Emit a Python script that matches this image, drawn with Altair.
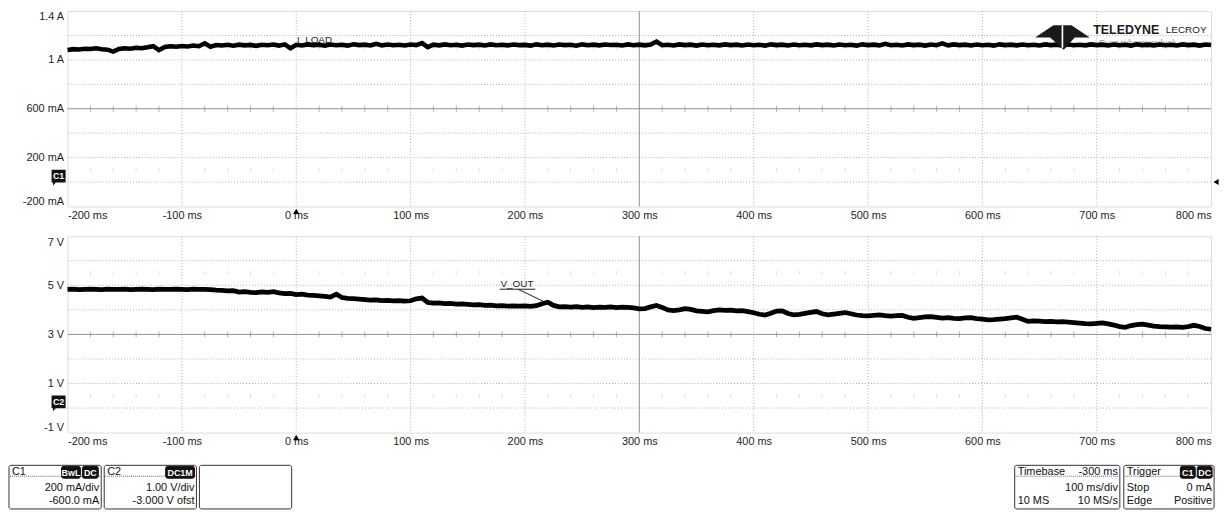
import altair as alt
import pandas as pd

# ---------------- data ----------------
time_ms = list(range(-200, 801, 5))

i_load = [
    1.082, 1.088, 1.085, 1.092, 1.090, 1.095, 1.088, 1.084, 1.068, 1.090, 1.096, 1.092, 1.100, 1.095, 1.104, 1.112, 1.080, 1.106, 1.112, 1.108,
    1.114, 1.110, 1.118, 1.112, 1.136, 1.108, 1.122, 1.118, 1.124, 1.116, 1.125, 1.119, 1.123, 1.115, 1.124, 1.120, 1.126, 1.117, 1.127, 1.095,
    1.124, 1.118, 1.127, 1.121, 1.125, 1.116, 1.126, 1.120, 1.124, 1.117, 1.128, 1.121, 1.125, 1.118, 1.132, 1.119, 1.126, 1.120, 1.124, 1.118,
    1.126, 1.121, 1.138, 1.104, 1.125, 1.119, 1.127, 1.120, 1.124, 1.117, 1.126, 1.121, 1.125, 1.118, 1.127, 1.120, 1.124, 1.119, 1.126, 1.121,
    1.123, 1.117, 1.127, 1.120, 1.125, 1.118, 1.126, 1.121, 1.124, 1.116, 1.127, 1.120, 1.125, 1.119, 1.126, 1.122, 1.124, 1.118, 1.127, 1.120,
    1.125, 1.119, 1.126, 1.150, 1.120, 1.124, 1.118, 1.127, 1.121, 1.125, 1.117, 1.126, 1.120, 1.124, 1.119, 1.127, 1.121, 1.125, 1.118, 1.126,
    1.120, 1.124, 1.117, 1.127, 1.121, 1.125, 1.118, 1.126, 1.120, 1.124, 1.119, 1.127, 1.121, 1.125, 1.118, 1.126, 1.120, 1.124, 1.117, 1.127,
    1.121, 1.125, 1.119, 1.132, 1.120, 1.124, 1.118, 1.127, 1.121, 1.125, 1.117, 1.126, 1.120, 1.135, 1.119, 1.127, 1.121, 1.125, 1.118, 1.126,
    1.120, 1.124, 1.117, 1.127, 1.121, 1.125, 1.119, 1.126, 1.120, 1.124, 1.118, 1.127, 1.121, 1.125, 1.117, 1.126, 1.120, 1.124, 1.119, 1.127,
    1.121, 1.125, 1.118, 1.126, 1.120, 1.124, 1.117, 1.127, 1.121, 1.125, 1.119, 1.126, 1.120, 1.124, 1.118, 1.127, 1.121, 1.125, 1.117, 1.126,
    1.122,
]

v_out = [
    4.83, 4.84, 4.82, 4.83, 4.84, 4.83, 4.82, 4.84, 4.83, 4.83, 4.84, 4.82, 4.83, 4.84, 4.83, 4.82, 4.84, 4.83, 4.83, 4.84,
    4.83, 4.82, 4.84, 4.83, 4.83, 4.82, 4.80, 4.79, 4.77, 4.78, 4.72, 4.74, 4.71, 4.70, 4.73, 4.71, 4.74, 4.69, 4.66, 4.67,
    4.62, 4.64, 4.60, 4.59, 4.57, 4.55, 4.52, 4.64, 4.50, 4.47, 4.46, 4.44, 4.42, 4.40, 4.41, 4.38, 4.39, 4.37, 4.38, 4.36,
    4.37, 4.45, 4.48, 4.30, 4.27, 4.28, 4.25, 4.26, 4.23, 4.24, 4.22, 4.20, 4.21, 4.18, 4.19, 4.16, 4.17, 4.15, 4.16, 4.15,
    4.16, 4.14, 4.17, 4.25, 4.31, 4.18, 4.12, 4.13, 4.11, 4.13, 4.10, 4.12, 4.09, 4.11, 4.10, 4.12, 4.09, 4.11, 4.10, 4.08,
    4.04, 4.05, 4.12, 4.18, 4.10, 4.00, 3.97, 4.00, 4.05, 4.02, 3.96, 3.94, 3.92, 3.97, 4.00, 3.98, 3.99, 3.96, 3.97, 3.93,
    3.88, 3.82, 3.79, 3.86, 3.95, 3.96, 3.85, 3.80, 3.82, 3.86, 3.90, 3.93, 3.84, 3.80, 3.83, 3.86, 3.89, 3.84, 3.79, 3.76,
    3.75, 3.77, 3.79, 3.76, 3.74, 3.76, 3.77, 3.70, 3.65, 3.68, 3.71, 3.72, 3.69, 3.66, 3.68, 3.65, 3.64, 3.67, 3.68, 3.64,
    3.62, 3.59, 3.60, 3.62, 3.64, 3.67, 3.70, 3.62, 3.53, 3.55, 3.54, 3.52, 3.53, 3.51, 3.52, 3.50, 3.48, 3.46, 3.44, 3.43,
    3.45, 3.47, 3.43, 3.38, 3.32, 3.29, 3.36, 3.40, 3.42, 3.38, 3.34, 3.32, 3.31, 3.30, 3.31, 3.29, 3.32, 3.37, 3.32, 3.24,
    3.21,
]

x_ticks = [-200, -100, 0, 100, 200, 300, 400, 500, 600, 700, 800]
x_grid = [-100, 0, 100, 200, 400, 500, 600, 700]
x_center = 300
minor_x = [t for t in range(-180, 800, 20) if t % 100 != 0]

i_domain = [-0.2, 1.4]
i_label_ticks = [-0.2, 0.2, 0.6, 1.0, 1.4]
i_grid = [0.0, 0.2, 0.4, 0.8, 1.0, 1.2]
i_center = 0.6
i_faint = [1.1, 0.1]

v_domain = [-1, 7]
v_label_ticks = [-1, 1, 3, 5, 7]
v_grid = [0, 1, 2, 4, 5, 6]
v_center = 3
v_faint = [5.5, 0.5]

c1_info = ["C1", "BwL", "DC", "200 mA/div", "-600.0 mA"]
c2_info = ["C2", "DC1M", "1.00 V/div", "-3.000 V ofst"]
timebase_info = ["Timebase", "-300 ms", "100 ms/div", "10 MS", "10 MS/s"]
trigger_info = ["Trigger", "C1", "DC", "Stop", "0 mA", "Edge", "Positive"]

# ---------------- style ----------------
W = 1153
H1 = 197
H2 = 198
FONT = "Liberation Sans"
GRID = "#b0b0b0"
CENTER = "#8e8e8e"
FAINT = "#d4d4d4"
LABEL = "#1e1e1e"
BADGE = "M -1 -0.9 L 1 -0.9 L 1 0.9 L -0.4 0.9 L -0.8 1.35 L -0.8 0.9 L -1 0.9 Z"
LOGO = "M -1 0 L -0.33 -0.45 L 0.33 -0.45 L 1 0 L 0.45 0 L 0.05 0.45 L -0.45 0 Z"
LOGO_SLIT = "M -0.03 -0.45 L 0.03 -0.45 L 0.03 0.38 L -0.03 0.38 Z"

dummy = pd.DataFrame({"k": [0]})


def make_axes(label_expr, ylabels):
    xa = alt.Axis(values=x_ticks, labelExpr="datum.value + ' ms'", title=None, grid=False, ticks=False,
                  tickSize=0, domain=False, labelFlush=True, labelPadding=3, labelFontSize=11,
                  labelColor=LABEL, labelFont=FONT)
    ya = alt.Axis(values=ylabels, labelExpr=label_expr, title=None, grid=False, ticks=False,
                  tickSize=0, domain=False, labelFlush=True, labelPadding=4, labelFontSize=11,
                  labelColor=LABEL, labelFont=FONT)
    return xa, ya


def panel(values, name, ydomain, ygrid, ylabels, ycenter, yfaint, label_expr, height, badge_level,
          stroke_w, extra_under, extra_over):
    xs = alt.Scale(domain=[-200, 800], nice=False, zero=False)
    ys = alt.Scale(domain=ydomain, nice=False, zero=False)
    xa, ya = make_axes(label_expr, ylabels)

    def X(field):
        return alt.X(field, scale=xs, axis=xa)

    def Y(field):
        return alt.Y(field, scale=ys, axis=ya)

    def XD(v):
        return alt.XDatum(v, scale=xs, axis=xa)

    def YD(v):
        return alt.YDatum(v, scale=ys, axis=ya)

    trace_df = pd.DataFrame({"t": time_ms, "v": values})
    trace = alt.Chart(trace_df).mark_line(color="black", strokeWidth=stroke_w).encode(x=X("t:Q"), y=Y("v:Q"))
    grid_layers = [
        alt.Chart(pd.DataFrame({"g": x_grid})).mark_rule(color=GRID, strokeDash=[1, 2], strokeWidth=1).encode(
            x=X("g:Q"), y=alt.value(0), y2=alt.value(height)),
        alt.Chart(pd.DataFrame({"g": ygrid})).mark_rule(color=GRID, strokeDash=[1, 2], strokeWidth=1).encode(
            y=Y("g:Q"), x=alt.value(0), x2=alt.value(W)),
        alt.Chart(pd.DataFrame({"g": [x_center]})).mark_rule(color=CENTER, strokeWidth=1).encode(
            x=X("g:Q"), y=alt.value(0), y2=alt.value(height)),
        alt.Chart(pd.DataFrame({"g": [ycenter]})).mark_rule(color=CENTER, strokeWidth=1).encode(
            y=Y("g:Q"), x=alt.value(0), x2=alt.value(W)),
        alt.Chart(pd.DataFrame({"t": minor_x})).mark_tick(orient="vertical", size=6, thickness=1, color=CENTER).encode(
            x=X("t:Q"), y=YD(ycenter)),
        alt.Chart(pd.DataFrame([(t, y) for y in yfaint for t in minor_x], columns=["t", "y"])).mark_tick(
            orient="vertical", size=4, thickness=1, color=FAINT).encode(x=X("t:Q"), y=Y("y:Q")),
    ]
    under = [f(X, Y, XD, YD) for f in extra_under]
    over = [f(X, Y, XD, YD) for f in extra_over]
    marks = [
        alt.Chart(dummy).mark_point(shape="triangle-up", filled=True, color="black", size=40, opacity=1).encode(
            x=XD(0), y=alt.value(height + 5)),
        alt.Chart(dummy).mark_point(shape=BADGE, filled=True, color="#111111", size=200, opacity=1).encode(
            x=alt.value(-9), y=YD(badge_level)),
        alt.Chart(dummy).mark_text(text=name, color="white", fontSize=9, fontWeight="bold", font=FONT,
                                   align="center", baseline="middle").encode(x=alt.value(-9), y=YD(badge_level)),
    ]
    return alt.layer(*(grid_layers + under + [trace] + over + marks))


def i_label(X, Y, XD, YD):
    return alt.Chart(dummy).mark_text(text="I_LOAD", fontSize=10, color=LABEL, font=FONT, align="center",
                                      baseline="middle").encode(x=XD(16), y=YD(1.166))


def tagline(X, Y, XD, YD):
    return alt.Chart(dummy).mark_text(text="Everywhereyoulook", fontSize=9, color="#9a9a9a", font=FONT,
                                      align="left", baseline="middle").encode(x=XD(702), y=YD(1.14))


def logo(X, Y, XD, YD):
    return alt.Chart(dummy).mark_point(shape=LOGO, filled=True, color="#1a1a1a", size=3025, opacity=1,
                                       strokeWidth=0).encode(x=XD(670), y=YD(1.184))


def logo_slit(X, Y, XD, YD):
    return alt.Chart(dummy).mark_point(shape=LOGO_SLIT, filled=True, color="white", size=3025, opacity=1,
                                       strokeWidth=0).encode(x=XD(670), y=YD(1.184))


def logo_t1(X, Y, XD, YD):
    return alt.Chart(dummy).mark_text(text="TELEDYNE", fontSize=12.5, fontWeight="bold", color="#1a1a1a",
                                      font=FONT, align="left", baseline="middle").encode(x=XD(697), y=YD(1.248))


def logo_t2(X, Y, XD, YD):
    return alt.Chart(dummy).mark_text(text="LECROY", fontSize=10, color="#1a1a1a", font=FONT,
                                      align="right", baseline="middle").encode(x=XD(796), y=YD(1.248))


def trig_level(X, Y, XD, YD):
    return alt.Chart(dummy).mark_point(shape="triangle-left", filled=True, color="black", size=36,
                                       opacity=1).encode(x=alt.value(W + 5), y=YD(0))


def v_label(X, Y, XD, YD):
    return alt.Chart(dummy).mark_text(text="V_OUT", fontSize=10, color=LABEL, font=FONT, align="center",
                                      baseline="middle").encode(x=XD(193), y=YD(5.06))


def v_underline(X, Y, XD, YD):
    return alt.Chart(dummy).mark_rule(color=LABEL, strokeWidth=1).encode(
        x=XD(178), x2=alt.X2Datum(209), y=YD(4.84))


def v_leader(X, Y, XD, YD):
    return alt.Chart(dummy).mark_rule(color=LABEL, strokeWidth=1).encode(
        x=XD(194), x2=alt.X2Datum(219), y=YD(4.84), y2=alt.Y2Datum(4.28))


top = panel(i_load, "C1", i_domain, i_grid, i_label_ticks, i_center, i_faint,
            "abs(datum.value) >= 1 ? datum.value + ' A' : round(datum.value * 1000) + ' mA'",
            H1, 0.048, 4.6, [i_label, tagline], [logo, logo_slit, logo_t1, logo_t2, trig_level]
            ).properties(width=W, height=H1)

bottom = panel(v_out, "C2", v_domain, v_grid, v_label_ticks, v_center, v_faint,
               "datum.value + ' V'", H2, 0.25, 4.8, [v_label, v_underline, v_leader], []
               ).properties(width=W, height=H2)


# ---- info boxes ----
def box(x1, x2, y1, y2, fill="white", stroke="#333333", corner=2):
    return alt.Chart(dummy).mark_rect(fill=fill, stroke=stroke, strokeWidth=1, cornerRadius=corner).encode(
        x=alt.value(x1), x2=alt.value(x2), y=alt.value(y1), y2=alt.value(y2))


def badge(s, x1, x2, y1=4, y2=16):
    return [
        box(x1, x2, y1, y2, fill="#111111", stroke="#111111", corner=2),
        alt.Chart(dummy).mark_text(text=s, color="white", fontSize=9, fontWeight="bold", font=FONT,
                                   align="center", baseline="middle").encode(
            x=alt.value((x1 + x2) / 2), y=alt.value((y1 + y2) / 2 + 0.5)),
    ]


def txt(s, x, y, align="left"):
    return alt.Chart(dummy).mark_text(text=s, align=align, baseline="middle", color="#111111", fontSize=11,
                                      font=FONT).encode(x=alt.value(x), y=alt.value(y))


def dotted(x1, x2, y):
    return alt.Chart(dummy).mark_rule(color="#666666", strokeDash=[1, 1], strokeWidth=1).encode(
        x=alt.value(x1), x2=alt.value(x2), y=alt.value(y))


ROW1, ROW2, ROW3 = 9.5, 26, 39.5
info_layers = []
info_layers += [box(-59, 34, 3, 47), dotted(-58, 33, 14), txt(c1_info[0], -56, ROW1)]
info_layers += badge(c1_info[1], -6, 13) + badge(c1_info[2], 15, 31)
info_layers += [txt(c1_info[3], 32, ROW2, "right"), txt(c1_info[4], 32, ROW3, "right")]
info_layers += [box(37, 130, 3, 47), dotted(38, 129, 14), txt(c2_info[0], 40, ROW1)]
info_layers += badge(c2_info[1], 99, 128)
info_layers += [txt(c2_info[2], 128, ROW2, "right"), txt(c2_info[3], 128, ROW3, "right")]
info_layers += [box(133, 226, 3, 47)]
info_layers += [box(955, 1061, 3, 47), dotted(956, 1060, 14),
                txt(timebase_info[0], 958, ROW1), txt(timebase_info[1], 1059, ROW1, "right"),
                txt(timebase_info[2], 1059, ROW2, "right"),
                txt(timebase_info[3], 958, ROW3), txt(timebase_info[4], 1059, ROW3, "right")]
info_layers += [box(1065, 1156, 3, 47), dotted(1066, 1155, 14), txt(trigger_info[0], 1068, ROW1)]
info_layers += badge(trigger_info[1], 1122, 1137) + badge(trigger_info[2], 1139, 1154)
info_layers += [txt(trigger_info[3], 1068, ROW2), txt(trigger_info[4], 1154, ROW2, "right"),
                txt(trigger_info[5], 1068, ROW3), txt(trigger_info[6], 1154, ROW3, "right")]

info = alt.layer(*info_layers).properties(width=W, height=48, view=alt.ViewBackground(stroke="transparent"))

chart = (
    alt.vconcat(top, bottom, info, spacing=30, bounds="flush")
    .properties(padding=0)
    .configure_view(stroke="#a4a4a4", strokeWidth=1)
    .configure(font=FONT)
)

chart.save("out.html", embed_options={"renderer": "svg", "actions": False})
